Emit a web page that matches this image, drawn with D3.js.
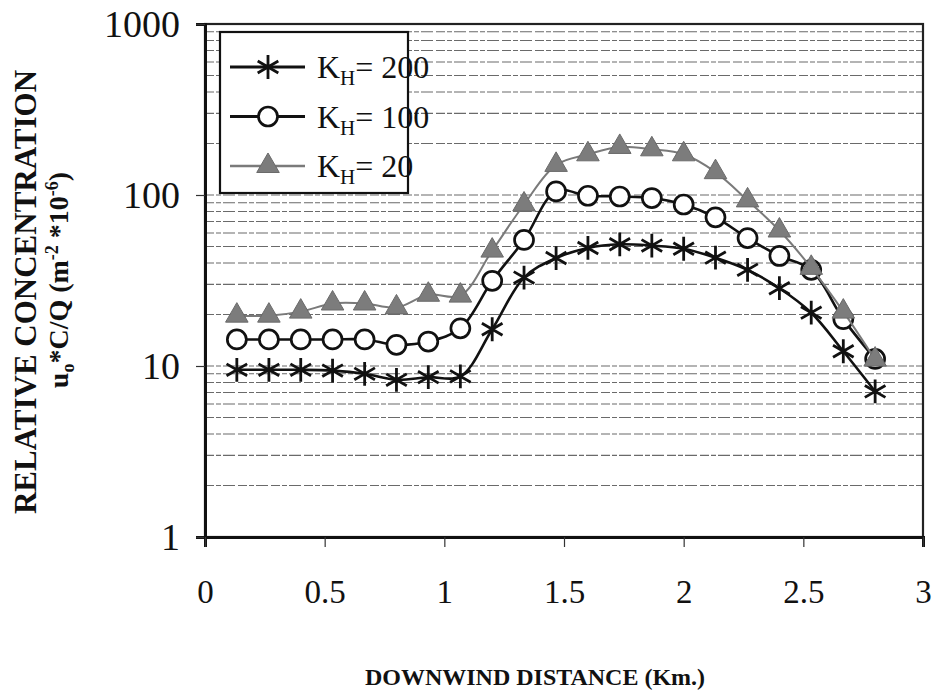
<!DOCTYPE html>
<html>
<head>
<meta charset="utf-8">
<script src="https://cdn.jsdelivr.net/npm/d3@7"></script>
<style>
  html, body { margin: 0; padding: 0; background: #fff; }
  svg { display: block; }
  text { font-family: "Liberation Serif", "Times New Roman", serif; fill: #111; }
</style>
</head>
<body>
<svg id="chart" width="935" height="698"></svg>
<script>
// ---- data ----
const distances = [0.133, 0.267, 0.4, 0.533, 0.667, 0.8, 0.933, 1.067, 1.2, 1.333, 1.467,
                   1.6, 1.733, 1.867, 2.0, 2.133, 2.267, 2.4, 2.533, 2.667, 2.8];
const kh200 = [9.5, 9.5, 9.5, 9.4, 9.0, 8.3, 8.6, 8.7, 16.4, 32.9, 42.8,
               49, 51.5, 50.6, 48.5, 43, 36.5, 28.5, 20.5, 12.2, 7.1];
const kh100 = [14.3, 14.3, 14.3, 14.3, 14.3, 13.3, 13.9, 16.6, 31.5, 54.6, 105,
               99, 98, 96, 88, 74, 56, 44, 36.5, 18.8, 11.0];
const kh20  = [19.7, 19.7, 20.8, 23.2, 23.2, 22.0, 26.1, 25.8, 47.3, 88, 150,
               173, 191, 185, 173, 136, 93, 62, 37.5, 20.8, 10.9];
const seriesNames = ["200", "100", "20"];
const xTicks = [0, 0.5, 1, 1.5, 2, 2.5, 3];
const yTicks = [1, 10, 100, 1000];

// ---- layout ----
const svg = d3.select("#chart");
const L = 205, R = 923, T = 24, B = 537;

const x = d3.scaleLinear().domain([0, 3]).range([L, R]);
const y = d3.scaleLog().domain([1, 1000]).range([B, T]);

// gridlines at minor log positions
const grid = [];
[1, 10, 100].forEach(d => { for (let k = 2; k <= 9; k++) grid.push(d * k); });
grid.push(10, 100);
svg.append("g").selectAll("line").data(grid).join("line")
  .attr("x1", L).attr("x2", R)
  .attr("y1", d => y(d)).attr("y2", d => y(d))
  .attr("stroke", "#6a6a6a").attr("stroke-width", 1.1)
  .attr("stroke-dasharray", "9,2,5,2,12,3");

// frame
svg.append("rect").attr("x", L).attr("y", T).attr("width", R - L).attr("height", B - T)
  .attr("fill", "none").attr("stroke", "#222").attr("stroke-width", 2.2);

// axes
const yAxis = d3.axisLeft(y).tickValues(yTicks).tickFormat(d3.format("d")).tickSize(9).tickPadding(16);
const gy = svg.append("g").attr("transform", `translate(${L},0)`).call(yAxis);
gy.select(".domain").attr("stroke", "#111").attr("stroke-width", 3);
gy.selectAll(".tick line").attr("stroke", "#333").attr("stroke-width", 1.2);
gy.selectAll(".tick text").attr("font-size", 38).attr("font-family", "Liberation Serif").attr("fill", "#111");

const xAxis = d3.axisBottom(x).tickValues(xTicks).tickFormat(d => d3.format("")(d)).tickSize(10).tickPadding(33);
const gx = svg.append("g").attr("transform", `translate(0,${B})`).call(xAxis);
gx.select(".domain").attr("stroke", "#111").attr("stroke-width", 3);
gx.selectAll(".tick line").attr("stroke", "#333").attr("stroke-width", 1.2);
gx.selectAll(".tick text").attr("font-size", 33).attr("font-family", "Liberation Serif").attr("fill", "#111");

// series
const series = [
  { name: seriesNames[0], values: kh200, color: "#111", width: 2.6, symbol: "star" },
  { name: seriesNames[1], values: kh100, color: "#111", width: 2.6, symbol: "circle" },
  { name: seriesNames[2], values: kh20,  color: "#7a7a7a", width: 2.0, symbol: "triangle" }
];

const line = d3.line().x(d => x(d[0])).y(d => y(d[1])).curve(d3.curveCatmullRom.alpha(0.5));

function drawMarker(g, type) {
  if (type === "star") {
    g.append("path").attr("d", d3.symbol().type(d3.symbolAsterisk).size(400)())
      .attr("fill", "none").attr("stroke", "#111").attr("stroke-width", 2.8);
  } else if (type === "circle") {
    g.append("circle").attr("r", 9.5).attr("fill", "#fff").attr("stroke", "#111").attr("stroke-width", 2.7);
  } else {
    g.append("path").attr("d", d3.symbol().type(d3.symbolTriangle).size(220)())
      .attr("fill", "#7c7c7c").attr("stroke", "#6a6a6a").attr("stroke-width", 1);
  }
}

series.forEach(s => {
  const pts = distances.map((d, i) => [d, s.values[i]]);
  svg.append("path").attr("d", line(pts)).attr("fill", "none")
    .attr("stroke", s.color).attr("stroke-width", s.width);
  pts.forEach(p => {
    const g = svg.append("g").attr("transform", `translate(${x(p[0])},${y(p[1])})`);
    drawMarker(g, s.symbol);
  });
});

// legend
const lg = svg.append("g");
lg.append("rect").attr("x", 220).attr("y", 32).attr("width", 188).attr("height", 161)
  .attr("fill", "#fff").attr("stroke", "#111").attr("stroke-width", 2.2);
series.forEach((s, i) => {
  const cy = 67 + i * 49.5;
  lg.append("line").attr("x1", 230).attr("x2", 305).attr("y1", cy).attr("y2", cy)
    .attr("stroke", s.color).attr("stroke-width", s.width + 0.4);
  drawMarker(lg.append("g").attr("transform", `translate(268,${cy})`), s.symbol);
  const t = lg.append("text").attr("x", 317).attr("y", cy + 11).attr("font-size", 32);
  t.append("tspan").text("K");
  t.append("tspan").attr("font-size", 21).attr("dy", 7).text("H");
  t.append("tspan").attr("dy", -7).text("= " + s.name);
});

// axis titles
svg.append("text").attr("x", 535).attr("y", 685).attr("text-anchor", "middle")
  .attr("font-size", 24).attr("font-weight", "bold").text("DOWNWIND DISTANCE (Km.)");

svg.append("text").attr("transform", "translate(36,292) rotate(-90)").attr("text-anchor", "middle")
  .attr("font-size", 31).attr("font-weight", "bold").text("RELATIVE CONCENTRATION");

const t2 = svg.append("text").attr("transform", "translate(68,280) rotate(-90)").attr("text-anchor", "middle")
  .attr("font-size", 28).attr("font-weight", "bold");
t2.append("tspan").text("u");
t2.append("tspan").attr("font-size", 18).attr("dy", 6).text("o");
t2.append("tspan").attr("dy", -6).text("*C/Q (m");
t2.append("tspan").attr("font-size", 18).attr("dy", -10).text("-2");
t2.append("tspan").attr("dy", 10).text(" *10");
t2.append("tspan").attr("font-size", 18).attr("dy", -10).text("-6");
t2.append("tspan").attr("dy", 10).text(")");
</script>
</body>
</html>
